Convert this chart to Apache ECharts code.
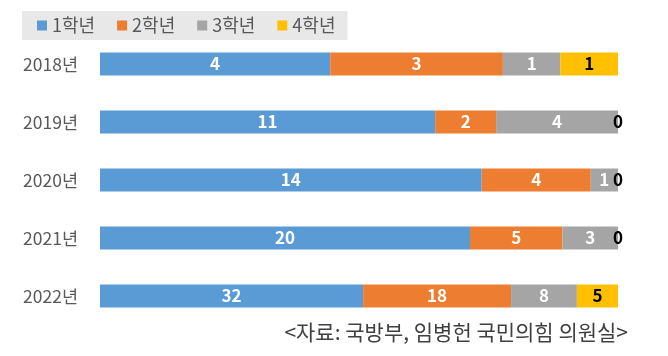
<!DOCTYPE html>
<html><head><meta charset="utf-8">
<script src="https://cdn.jsdelivr.net/npm/echarts@6/dist/echarts.min.js"></script>
<style>html,body{margin:0;padding:0;background:#fff}#c{width:668px;height:356px}</style>
</head><body><div id="c"></div>
<script>
const categories = ['2018년','2019년','2020년','2021년','2022년'];
const seriesNames = ['1학년','2학년','3학년','4학년'];
const grade1 = [4, 11, 14, 20, 32];
const grade2 = [3, 2, 4, 5, 18];
const grade3 = [1, 4, 1, 3, 8];
const grade4 = [1, 0, 0, 0, 5];
const colors = ['#5B9BD5','#ED7D31','#A5A5A5','#FFC000'];
const labelColors = ['#fff','#fff','#fff','#000'];
const all = [grade1, grade2, grade3, grade4];
const totals = categories.map((_, i) => all.reduce((s, a) => s + a[i], 0));
const font = '"Noto Sans CJK KR", "Noto Sans", sans-serif';

const chart = echarts.init(document.getElementById('c'));
chart.setOption({
  animation: false,
  textStyle: { fontFamily: font },
  legend: {
    left: 22, top: 11,
    backgroundColor: '#e8e8e8',
    padding: [5, 12, 5, 15],
    itemWidth: 10, itemHeight: 10, itemGap: 22,
    icon: 'rect',
    textStyle: { fontSize: 18, color: '#595959', fontFamily: font, lineHeight: 19 },
    data: seriesNames
  },
  grid: { left: 100, right: 50, top: 35, bottom: 31 },
  xAxis: { type: 'value', min: 0, max: 1, show: false },
  yAxis: {
    type: 'category', data: categories, inverse: true,
    axisLine: { show: false }, axisTick: { show: false },
    axisLabel: { fontSize: 17.5, color: '#595959', margin: 22, fontFamily: font }
  },
  series: all.map((arr, k) => ({
    name: seriesNames[k], type: 'bar', stack: 'a', barWidth: 23,
    itemStyle: { color: colors[k] },
    label: {
      show: true, position: 'inside', color: labelColors[k],
      fontSize: 17, fontWeight: 'bold', fontFamily: font,
      formatter: p => arr[p.dataIndex]
    },
    data: arr.map((v, i) => v / totals[i])
  })),
  graphic: [{
    type: 'text', right: 40, top: 322,
    style: { text: '<자료: 국방부, 임병헌 국민의힘 의원실>', fontSize: 21, fill: '#404040', fontFamily: font }
  }]
});
</script></body></html>
